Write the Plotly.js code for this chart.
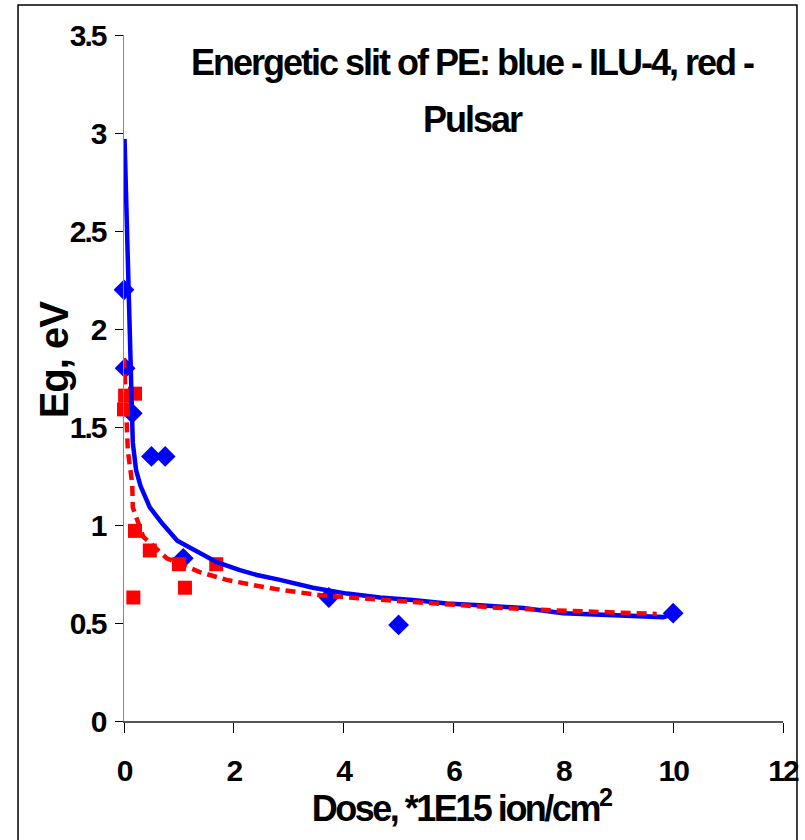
<!DOCTYPE html>
<html><head><meta charset="utf-8">
<script src="https://cdn.plot.ly/plotly-3.0.1.min.js"></script>
<style>
body{margin:0;background:#fff}#chart{width:805px;height:840px}
.xtick text, .ytick text{letter-spacing:-2px}
g.annotation[data-index="0"] text{letter-spacing:-2px}
g.annotation[data-index="1"] text{letter-spacing:-2px}
g.annotation[data-index="2"] text{letter-spacing:-2.5px}
g.annotation[data-index="3"] text{letter-spacing:-1px}
</style>
</head><body><div id="chart"></div>
<script>
// ILU-4 (blue) measured points
const iluDose = [0, 0.02, 0.15, 0.5, 0.75, 1.08, 3.73, 5.0, 10.0];
const iluEg   = [2.2, 1.8, 1.57, 1.35, 1.35, 0.83, 0.63, 0.49, 0.55];
// Pulsar (red) measured points
const pulDose = [0, 0.02, 0.2, 0.2, 0.17, 0.47, 1.0, 1.11, 1.68];
const pulEg   = [1.59, 1.66, 1.67, 0.97, 0.63, 0.87, 0.80, 0.68, 0.80];
// trend line (blue, solid)
const iluTrendX = [0.01, 0.07, 0.09, 0.15, 0.16, 0.22, 0.3, 0.47, 0.69, 0.97, 1.38, 1.69, 2.11, 2.42, 2.84, 3.44, 4.06, 4.66, 5.26, 5.88, 6.48, 7.27, 8.0, 8.9, 9.82, 10.0];
const iluTrendY = [2.97, 2.30, 2.05, 1.55, 1.42, 1.28, 1.20, 1.09, 1.01, 0.92, 0.86, 0.81, 0.77, 0.745, 0.72, 0.68, 0.65, 0.63, 0.617, 0.60, 0.59, 0.577, 0.55, 0.54, 0.53, 0.545];
// trend line (red, dashed)
const pulTrendX = [0.0, 0.07, 0.15, 0.16, 0.35, 0.78, 1.38, 1.87, 2.42, 2.84, 3.62, 4.66, 5.26, 6.17, 6.67, 7.7, 8.9, 9.7];
const pulTrendY = [1.85, 1.38, 1.21, 1.09, 0.94, 0.83, 0.76, 0.72, 0.69, 0.67, 0.64, 0.617, 0.607, 0.59, 0.58, 0.566, 0.556, 0.546];

const xTicks = [0, 2, 4, 6, 8, 10, 12];
const yTicks = [0, 0.5, 1, 1.5, 2, 2.5, 3, 3.5];

const titleLine1 = 'Energetic slit of PE: blue - ILU-4, red -';
const titleLine2 = 'Pulsar';
const xTitleText = 'Dose, *1E15 ion/cm<sup>2</sup>';
const yTitleText = 'Eg, eV';

const FONT = '"Liberation Sans", Arial, sans-serif';

const traces = [
  {x: iluDose, y: iluEg, mode: 'markers', type: 'scatter', cliponaxis: false,
   marker: {symbol: 'diamond', size: 16, color: '#0000FF'}},
  {x: pulDose, y: pulEg, mode: 'markers', type: 'scatter', cliponaxis: false,
   marker: {symbol: 'square', size: 14, color: '#FF0000'}},
  {x: iluTrendX, y: iluTrendY, mode: 'lines', type: 'scatter', cliponaxis: false,
   line: {color: '#0000FF', width: 4.5}},
  {x: pulTrendX, y: pulTrendY, mode: 'lines', type: 'scatter', cliponaxis: false,
   line: {color: '#FF0000', width: 4.5, dash: '10px,6px'}}
];

const tickFont = {family: FONT, size: 30, color: '#000', weight: 'bold'};
const titleFont = {family: FONT, size: 36, color: '#000', weight: 'bold'};

const layout = {
  width: 805, height: 840,
  margin: {l: 124, r: 22, t: 35, b: 119},
  paper_bgcolor: '#fff', plot_bgcolor: '#fff',
  showlegend: false,
  font: {family: FONT, color: '#000'},
  xaxis: {
    range: [0, 12], tickvals: xTicks, ticktext: xTicks.map(String),
    showgrid: false, zeroline: false, ticks: 'outside', ticklen: 10, tickcolor: '#000', tickwidth: 1,
    showline: true, linecolor: '#555', linewidth: 1.5,
    tickfont: tickFont, ticklabelstandoff: 12
  },
  yaxis: {
    range: [0, 3.5], tickvals: yTicks, ticktext: yTicks.map(String),
    showgrid: false, zeroline: false, ticks: 'outside', ticklen: 8, tickcolor: '#000', tickwidth: 1,
    showline: true, linecolor: '#888', linewidth: 1.5,
    tickfont: tickFont, ticklabelstandoff: 3
  },
  xaxis2: {overlaying: 'x', anchor: 'y', side: 'bottom', range: [0, 12], tickvals: xTicks, ticks: 'inside', ticklen: 10,
           tickcolor: '#000', showticklabels: false, showgrid: false, zeroline: false, showline: false},
  yaxis2: {overlaying: 'y', anchor: 'x', side: 'left', range: [0, 3.5], tickvals: yTicks, ticks: 'inside', ticklen: 8,
           tickcolor: '#000', showticklabels: false, showgrid: false, zeroline: false, showline: false},
  annotations: [
    {text: titleLine1, xref: 'paper', yref: 'paper', x: 0.528, y: 0.993, xanchor: 'center', yanchor: 'top',
     showarrow: false, font: titleFont},
    {text: titleLine2, xref: 'paper', yref: 'paper', x: 0.528, y: 0.910, xanchor: 'center', yanchor: 'top',
     showarrow: false, font: titleFont},
    {text: xTitleText, xref: 'paper', yref: 'paper', x: 0.511, y: -0.087, xanchor: 'center', yanchor: 'top',
     showarrow: false, font: {family: FONT, size: 36, color: '#000', weight: 'bold'}},
    {text: yTitleText, xref: 'paper', yref: 'paper', x: -0.106, y: 0.526, xanchor: 'center', yanchor: 'middle',
     textangle: -90, showarrow: false, font: {family: FONT, size: 40, color: '#000', weight: 'bold'}}
  ],
  shapes: [{type: 'rect', xref: 'paper', yref: 'paper', x0: -0.1608, x1: 1.0212, y0: -0.19, y1: 1.0437,
            line: {color: '#000', width: 1.5}, fillcolor: 'rgba(0,0,0,0)'}]
};

Plotly.newPlot('chart', traces, layout, {displayModeBar: false, staticPlot: true});
</script></body></html>
